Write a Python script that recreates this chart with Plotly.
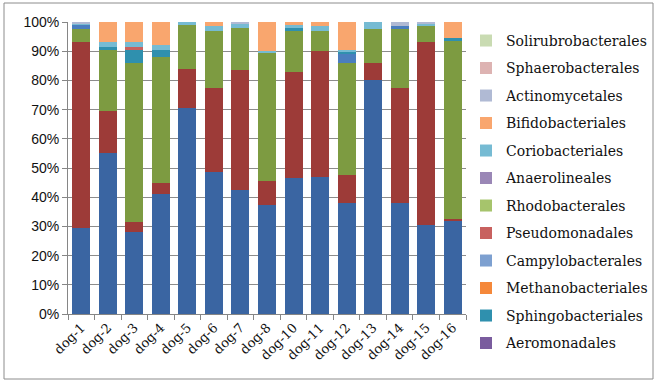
import plotly.graph_objects as go

dogs = ["dog-1", "dog-2", "dog-3", "dog-4", "dog-5", "dog-6", "dog-7", "dog-8",
        "dog-10", "dog-11", "dog-12", "dog-13", "dog-14", "dog-15", "dog-16"]

# main (unlabelled in the legend) orders, bottom of the stack
order_a = [29.5, 55, 28, 41, 70.5, 48.5, 42.5, 37.5, 46.5, 47, 38, 80, 38, 30.5, 32]
order_b = [63.5, 14.5, 3.5, 4, 13.5, 29, 41, 8, 36.5, 43, 9.5, 6, 39.5, 62.5, 0.5]
order_c = [4.5, 21, 54.5, 43, 15, 19.5, 14.5, 44, 14, 7, 38.5, 11.5, 20, 5.5, 61]
order_d = [1.5, 0, 0, 0, 0, 0, 0, 0, 0, 0, 3, 0, 1, 0, 0]

# orders shown in the legend (stack order, bottom to top)
aeromonadales = [0] * 15
sphingobacteriales = [0, 1, 4.5, 2.5, 0, 0, 0, 0, 1, 0, 1, 0, 0, 0, 1]
methanobacteriales = [0] * 15
campylobacterales = [0] * 15
pseudomonadales = [0, 0, 1, 0, 0, 0, 0, 0, 0, 0, 0, 0, 0, 0, 0]
rhodobacterales = [0] * 15
anaerolineales = [0] * 15
coriobacteriales = [0.5, 1.5, 1.5, 1.5, 1, 1.5, 1.5, 0.5, 1, 1.5, 0.5, 2.5, 0, 1, 0]
bifidobacteriales = [0, 7, 7, 8, 0, 1.5, 0, 10, 1, 1.5, 9.5, 0, 0, 0, 5.5]
actinomycetales = [0.5, 0, 0, 0, 0, 0, 0.5, 0, 0, 0, 0, 0, 1.5, 0.5, 0]
sphaerobacterales = [0] * 15
solirubrobacterales = [0] * 15

hidden = [
    ("Order A", order_a, "#3A65A2"),
    ("Order B", order_b, "#9D3B38"),
    ("Order C", order_c, "#7D9B41"),
    ("Order D", order_d, "#4A7EBE"),
]
shown = [
    ("Aeromonadales", aeromonadales, "#7A5C9E"),
    ("Sphingobacteriales", sphingobacteriales, "#2F90AE"),
    ("Methanobacteriales", methanobacteriales, "#F5883A"),
    ("Campylobacterales", campylobacterales, "#7DA0D0"),
    ("Pseudomonadales", pseudomonadales, "#C8615F"),
    ("Rhodobacterales", rhodobacterales, "#A6C46C"),
    ("Anaerolineales", anaerolineales, "#9A87B6"),
    ("Coriobacteriales", coriobacteriales, "#76BBD3"),
    ("Bifidobacteriales", bifidobacteriales, "#F9A66E"),
    ("Actinomycetales", actinomycetales, "#B0BAD4"),
    ("Sphaerobacterales", sphaerobacterales, "#DDB3B2"),
    ("Solirubrobacterales", solirubrobacterales, "#C9DBB2"),
]

fig = go.Figure()
for name, vals, col in hidden:
    fig.add_trace(go.Bar(x=dogs, y=vals, name=name, marker=dict(color=col, line=dict(width=0)),
                         showlegend=False))
n = len(shown)
for i, (name, vals, col) in enumerate(shown):
    fig.add_trace(go.Bar(x=dogs, y=vals, name=name, legendgroup=name, legendrank=n - i,
                         marker=dict(color=col, line=dict(width=0))))

fig.update_layout(
    width=664, height=385,
    margin=dict(l=68, r=198, t=22, b=71, autoexpand=False),
    barmode="stack", bargap=0.32,
    paper_bgcolor="white", plot_bgcolor="white",
    showlegend=True,
    legend=dict(traceorder="grouped", tracegroupgap=6.3, maxheight=380,
                x=1.0, xanchor="left", y=0.99, yanchor="top",
                font=dict(family="DejaVu Serif", size=14, color="#111111"),
                bgcolor="rgba(0,0,0,0)"),
    xaxis=dict(type="category", tickangle=-45, showgrid=False, automargin=False,
               showline=True, linecolor="#868686", linewidth=1,
               ticks="outside", tickson="boundaries", ticklen=5, tickcolor="#868686",
               tickfont=dict(family="DejaVu Serif", size=13, color="#111111")),
    yaxis=dict(range=[0, 100], dtick=10, ticksuffix="%", automargin=False,
               showgrid=True, gridcolor="#8C8C8C", gridwidth=1,
               showline=True, linecolor="#868686", linewidth=1,
               ticks="outside", ticklen=5, tickcolor="#868686", zeroline=False,
               tickfont=dict(family="Liberation Sans", size=14, color="#111111")),
    shapes=[dict(type="rect", xref="paper", yref="paper",
                 x0=(4 - 68) / 398, x1=(653 - 68) / 398,
                 y0=(314 - 379) / 292, y1=(314 - 3) / 292,
                 line=dict(color="#8C8C8C", width=1), fillcolor="rgba(0,0,0,0)", layer="below")],
)

fig.write_html("out.html", config={"displayModeBar": False},
               post_script="document.body.style.margin='0';")
